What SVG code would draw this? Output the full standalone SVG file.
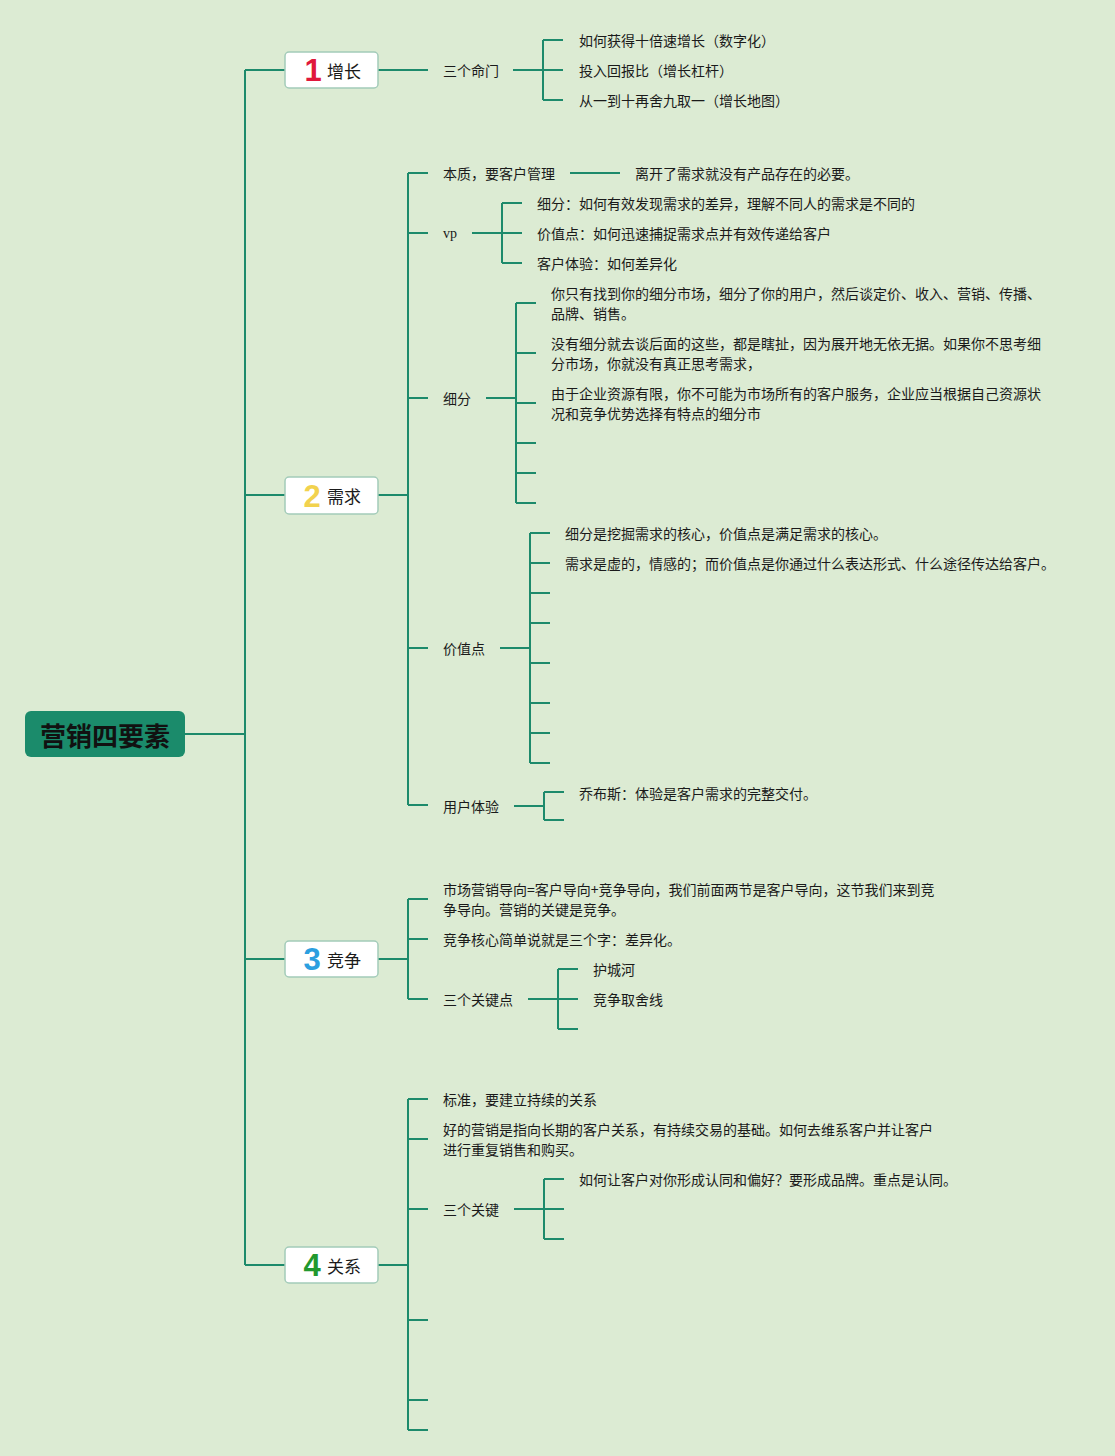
<svg xmlns="http://www.w3.org/2000/svg" width="1115" height="1456" viewBox="0 0 1115 1456">
<style>
.bg{fill:#dcebd3}
.c{stroke:#1d8a6b;stroke-width:2;fill:none}
.t{font-family:"Noto Sans CJK SC","Noto Sans",sans-serif;font-size:14px;fill:#1a1a1a;dominant-baseline:central}
.vp{font-family:"Liberation Serif",serif;font-size:14px;fill:#1a1a1a;dominant-baseline:central}
.box{fill:#ffffff;stroke:#a3cbb9;stroke-width:1.5}
.lbl{font-family:"Noto Sans CJK SC","Noto Sans",sans-serif;font-size:17px;fill:#1a1a1a;dominant-baseline:central}
.num{font-family:"Liberation Sans",Arial,sans-serif;font-size:31px;font-weight:bold;text-anchor:middle;dominant-baseline:central}
.root{fill:#1b8b6b}
.rt{font-family:"Noto Sans CJK SC","Noto Sans",sans-serif;font-size:26px;font-weight:bold;fill:#111;text-anchor:middle;dominant-baseline:central}
</style>
<rect class="bg" x="0" y="0" width="1115" height="1456"/>
<g id="connectors" class="c">
<path d="M185 734H245M245 70V1265M245 70H285M245 495H285M245 959H285M245 1265H285"/>
<path d="M378 70H428M513 70H543M543 40V100M543 40H563M543 70H563M543 100H563"/>
<path d="M378 495H408M408 173V805M408 173H428M408 233H428M408 398H428M408 648H428M408 805H428"/>
<path d="M570 173H620"/>
<path d="M472 233H502M502 203V263M502 203H522M502 233H522M502 263H522"/>
<path d="M486 398H516M516 303V503M516 303H536M516 353H536M516 403H536M516 443H536M516 473H536M516 503H536"/>
<path d="M500 648H530M530 533V763M530 533H550M530 563H550M530 593H550M530 623H550M530 663H550M530 703H550M530 733H550M530 763H550"/>
<path d="M514 806H544M544 792V820M544 792H564M544 820H564"/>
<path d="M378 959H408M408 899V999M408 899H428M408 939H428M408 999H428"/>
<path d="M528 999H558M558 969V1029M558 969H578M558 999H578M558 1029H578"/>
<path d="M378 1265H408M408 1099V1430M408 1099H428M408 1139H428M408 1209H428M408 1320H428M408 1400H428M408 1430H428"/>
<path d="M514 1209H544M544 1179V1239M544 1179H564M544 1209H564M544 1239H564"/>
</g>
<g id="root">
<rect class="root" x="25" y="711" width="160" height="46" rx="6"/>
<text class="rt" x="105" y="734">营销四要素</text>
</g>
<g id="n1">
<rect class="box" x="285" y="52" width="93" height="36" rx="4"/>
<text class="num" x="313" y="70" fill="#e0183c">1</text>
<text class="lbl" x="327" y="70">增长</text>
</g>
<g id="n2">
<rect class="box" x="285" y="477" width="93" height="37" rx="4"/>
<text class="num" x="312" y="496" fill="#f2d24e">2</text>
<text class="lbl" x="327" y="495">需求</text>
</g>
<g id="n3">
<rect class="box" x="285" y="941" width="93" height="36" rx="4"/>
<text class="num" x="312" y="959" fill="#2b9fe0">3</text>
<text class="lbl" x="327" y="959">竞争</text>
</g>
<g id="n4">
<rect class="box" x="285" y="1247" width="93" height="36" rx="4"/>
<text class="num" x="312" y="1265" fill="#22982e">4</text>
<text class="lbl" x="327" y="1265">关系</text>
</g>
<g id="n1-1"><text class="t" x="443" y="70">三个命门</text></g>
<g id="n1-1-1"><text class="t" x="579" y="40">如何获得十倍速增长（数字化）</text></g>
<g id="n1-1-2"><text class="t" x="579" y="70">投入回报比（增长杠杆）</text></g>
<g id="n1-1-3"><text class="t" x="579" y="100">从一到十再舍九取一（增长地图）</text></g>
<g id="n2-1"><text class="t" x="443" y="173">本质，要客户管理</text></g>
<g id="n2-1-1"><text class="t" x="635" y="173">离开了需求就没有产品存在的必要。</text></g>
<g id="n2-2"><text class="vp" x="443" y="233">vp</text></g>
<g id="n2-2-1"><text class="t" x="537" y="203">细分：如何有效发现需求的差异，理解不同人的需求是不同的</text></g>
<g id="n2-2-2"><text class="t" x="537" y="233">价值点：如何迅速捕捉需求点并有效传递给客户</text></g>
<g id="n2-2-3"><text class="t" x="537" y="263">客户体验：如何差异化</text></g>
<g id="n2-3"><text class="t" x="443" y="398">细分</text></g>
<g id="n2-3-1"><text class="t" x="551" y="293">你只有找到你的细分市场，细分了你的用户，然后谈定价、收入、营销、传播、</text><text class="t" x="551" y="313">品牌、销售。</text></g>
<g id="n2-3-2"><text class="t" x="551" y="343">没有细分就去谈后面的这些，都是瞎扯，因为展开地无依无据。如果你不思考细</text><text class="t" x="551" y="363">分市场，你就没有真正思考需求，</text></g>
<g id="n2-3-3"><text class="t" x="551" y="393">由于企业资源有限，你不可能为市场所有的客户服务，企业应当根据自己资源状</text><text class="t" x="551" y="413">况和竞争优势选择有特点的细分市</text></g>
<g id="n2-4"><text class="t" x="443" y="648">价值点</text></g>
<g id="n2-4-1"><text class="t" x="565" y="533">细分是挖掘需求的核心，价值点是满足需求的核心。</text></g>
<g id="n2-4-2"><text class="t" x="565" y="563">需求是虚的，情感的；而价值点是你通过什么表达形式、什么途径传达给客户。</text></g>
<g id="n2-5"><text class="t" x="443" y="806">用户体验</text></g>
<g id="n2-5-1"><text class="t" x="579" y="793">乔布斯：体验是客户需求的完整交付。</text></g>
<g id="n3-1"><text class="t" x="443" y="889">市场营销导向=客户导向+竞争导向，我们前面两节是客户导向，这节我们来到竞</text><text class="t" x="443" y="909">争导向。营销的关键是竞争。</text></g>
<g id="n3-2"><text class="t" x="443" y="939">竞争核心简单说就是三个字：差异化。</text></g>
<g id="n3-3"><text class="t" x="443" y="999">三个关键点</text></g>
<g id="n3-3-1"><text class="t" x="593" y="969">护城河</text></g>
<g id="n3-3-2"><text class="t" x="593" y="999">竞争取舍线</text></g>
<g id="n4-1"><text class="t" x="443" y="1099">标准，要建立持续的关系</text></g>
<g id="n4-2"><text class="t" x="443" y="1129">好的营销是指向长期的客户关系，有持续交易的基础。如何去维系客户并让客户</text><text class="t" x="443" y="1149">进行重复销售和购买。</text></g>
<g id="n4-3"><text class="t" x="443" y="1209">三个关键</text></g>
<g id="n4-3-1"><text class="t" x="579" y="1179">如何让客户对你形成认同和偏好？要形成品牌。重点是认同。</text></g>
</svg>
